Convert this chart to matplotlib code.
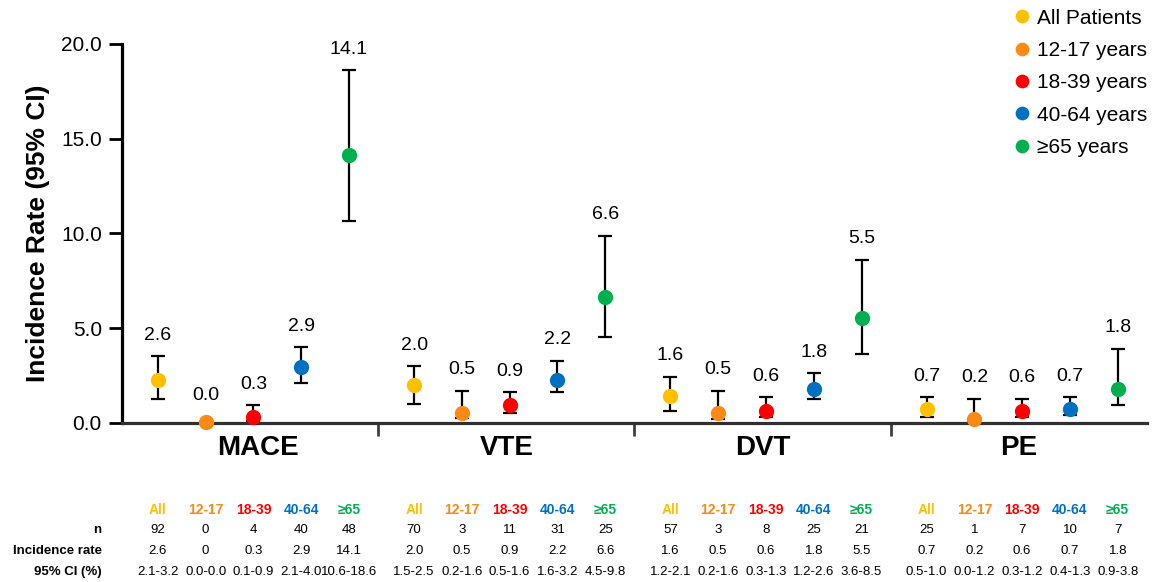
# Incidence rate by age group, with summary table underneath
import numpy as np
import matplotlib.pyplot as plt
import matplotlib.transforms as mtransforms

plt.rcParams['font.family'] = ['Liberation Sans', 'DejaVu Sans']

outcomes = ['MACE', 'VTE', 'DVT', 'PE']
age_groups = ['All Patients', '12-17 years', '18-39 years', '40-64 years', '≥65 years']
age_short = ['All', '12-17', '18-39', '40-64', '≥65']
colors = ['#FFC000', '#FA8A14', '#FF0000', '#0070C0', '#00B050']

# plotted point / CI positions (outcome x age group)
mace_pt = [2.25, 0.07, 0.33, 2.95, 14.13]
mace_lo = [1.28, 0.07, 0.10, 2.13, 10.68]
mace_hi = [3.54, 0.07, 0.95, 4.01, 18.63]
vte_pt = [1.99, 0.51, 0.93, 2.27, 6.67]
vte_lo = [1.02, 0.25, 0.54, 1.65, 4.54]
vte_hi = [3.01, 1.70, 1.64, 3.29, 9.88]
dvt_pt = [1.44, 0.51, 0.63, 1.79, 5.54]
dvt_lo = [0.62, 0.22, 0.30, 1.28, 3.66]
dvt_hi = [2.44, 1.70, 1.37, 2.64, 8.62]
pe_pt = [0.72, 0.21, 0.62, 0.75, 1.81]
pe_lo = [0.33, 0.05, 0.30, 0.42, 0.97]
pe_hi = [1.37, 1.28, 1.28, 1.37, 3.92]

# table values
n_events = [['92', '0', '4', '40', '48'],
            ['70', '3', '11', '31', '25'],
            ['57', '3', '8', '25', '21'],
            ['25', '1', '7', '10', '7']]
rates = [['2.6', '0', '0.3', '2.9', '14.1'],
         ['2.0', '0.5', '0.9', '2.2', '6.6'],
         ['1.6', '0.5', '0.6', '1.8', '5.5'],
         ['0.7', '0.2', '0.6', '0.7', '1.8']]
cis = [['2.1-3.2', '0.0-0.0', '0.1-0.9', '2.1-4.0', '10.6-18.6'],
       ['1.5-2.5', '0.2-1.6', '0.5-1.6', '1.6-3.2', '4.5-9.8'],
       ['1.2-2.1', '0.2-1.6', '0.3-1.3', '1.2-2.6', '3.6-8.5'],
       ['0.5-1.0', '0.0-1.2', '0.3-1.2', '0.4-1.3', '0.9-3.8']]

pt = np.array([mace_pt, vte_pt, dvt_pt, pe_pt])
lo = np.array([mace_lo, vte_lo, dvt_lo, pe_lo])
hi = np.array([mace_hi, vte_hi, dvt_hi, pe_hi])

fig = plt.figure(figsize=(11.63, 5.82), dpi=100)
ax = fig.add_axes([0.1049, 0.2732, 0.8813, 0.6512])

# x position of each point: group index + offset inside the group
offsets = 0.14 + 0.1865 * np.arange(len(age_groups))
xs = np.arange(len(outcomes))[:, None] + offsets[None, :]

for j, (name, c) in enumerate(zip(age_groups, colors)):
    ax.errorbar(xs[:, j], pt[:, j], yerr=[pt[:, j] - lo[:, j], hi[:, j] - pt[:, j]],
                fmt='none', ecolor='black', elinewidth=1.6, capsize=5, capthick=1.6,
                zorder=2, clip_on=False)
    ax.plot(xs[:, j], pt[:, j], 'o', color=c, markersize=11, markeredgewidth=0,
            zorder=3, clip_on=False, label=name)

for i in range(len(outcomes)):
    for j in range(len(age_groups)):
        top = max(hi[i, j], pt[i, j] + 0.3)
        ax.annotate(f"{float(rates[i][j]):.1f}", (xs[i, j], top), xytext=(0, 15),
                    textcoords='offset points', ha='center', va='center',
                    fontsize=14, annotation_clip=False)

ax.set_xlim(0, len(outcomes))
ax.set_ylim(0, 20)
ax.set_yticks([0, 5, 10, 15, 20])
ax.set_yticklabels([f"{v:.1f}" for v in [0, 5, 10, 15, 20]])
ax.tick_params(axis='y', labelsize=15, length=9.5, width=2, pad=5)
ax.set_xticks([1, 2, 3])
ax.set_xticklabels([])
ax.tick_params(axis='x', direction='out', length=9.5, width=2, color='#404040')
for s in ['top', 'right']:
    ax.spines[s].set_visible(False)
ax.spines['left'].set_linewidth(2.3)
ax.spines['bottom'].set_linewidth(2.3)
ax.spines['bottom'].set_color('#303030')
ax.set_ylabel('Incidence Rate (95% CI)', fontsize=19, fontweight='bold')
ax.yaxis.set_label_coords(-0.070, 0.5)

for i, name in enumerate(outcomes):
    ax.text(i + 0.5 + (0.03 if i == 0 else 0), -0.065, name, transform=ax.get_xaxis_transform(),
            ha='center', va='center', fontsize=20, fontweight='bold')

ax.legend(loc='upper left', bbox_to_anchor=(0.8737, 0.985), bbox_transform=fig.transFigure,
          frameon=False, fontsize=15, handlelength=0.6, handletextpad=0.4,
          labelspacing=0.64, borderpad=0, borderaxespad=0, markerscale=0.9)

# summary table below the chart
trans = mtransforms.blended_transform_factory(ax.transData, fig.transFigure)
row_y = [0.1237, 0.0893, 0.0533, 0.0177]
row_names = ['n', 'Incidence rate', '95% CI (%)']
for k, name in enumerate(row_names):
    fig.text(0.0874, row_y[k + 1], name, ha='right', va='center', fontsize=9.5, fontweight='bold')
for i in range(len(outcomes)):
    for j in range(len(age_groups)):
        x = xs[i, j]
        ax.text(x, row_y[0], age_short[j], transform=trans, ha='center', va='center',
                fontsize=10, fontweight='bold', color=colors[j])
        for k, vals in enumerate([n_events, rates, cis]):
            ax.text(x, row_y[k + 1], vals[i][j], transform=trans, ha='center', va='center',
                    fontsize=9.5)

fig.savefig('out.png', dpi=100)
